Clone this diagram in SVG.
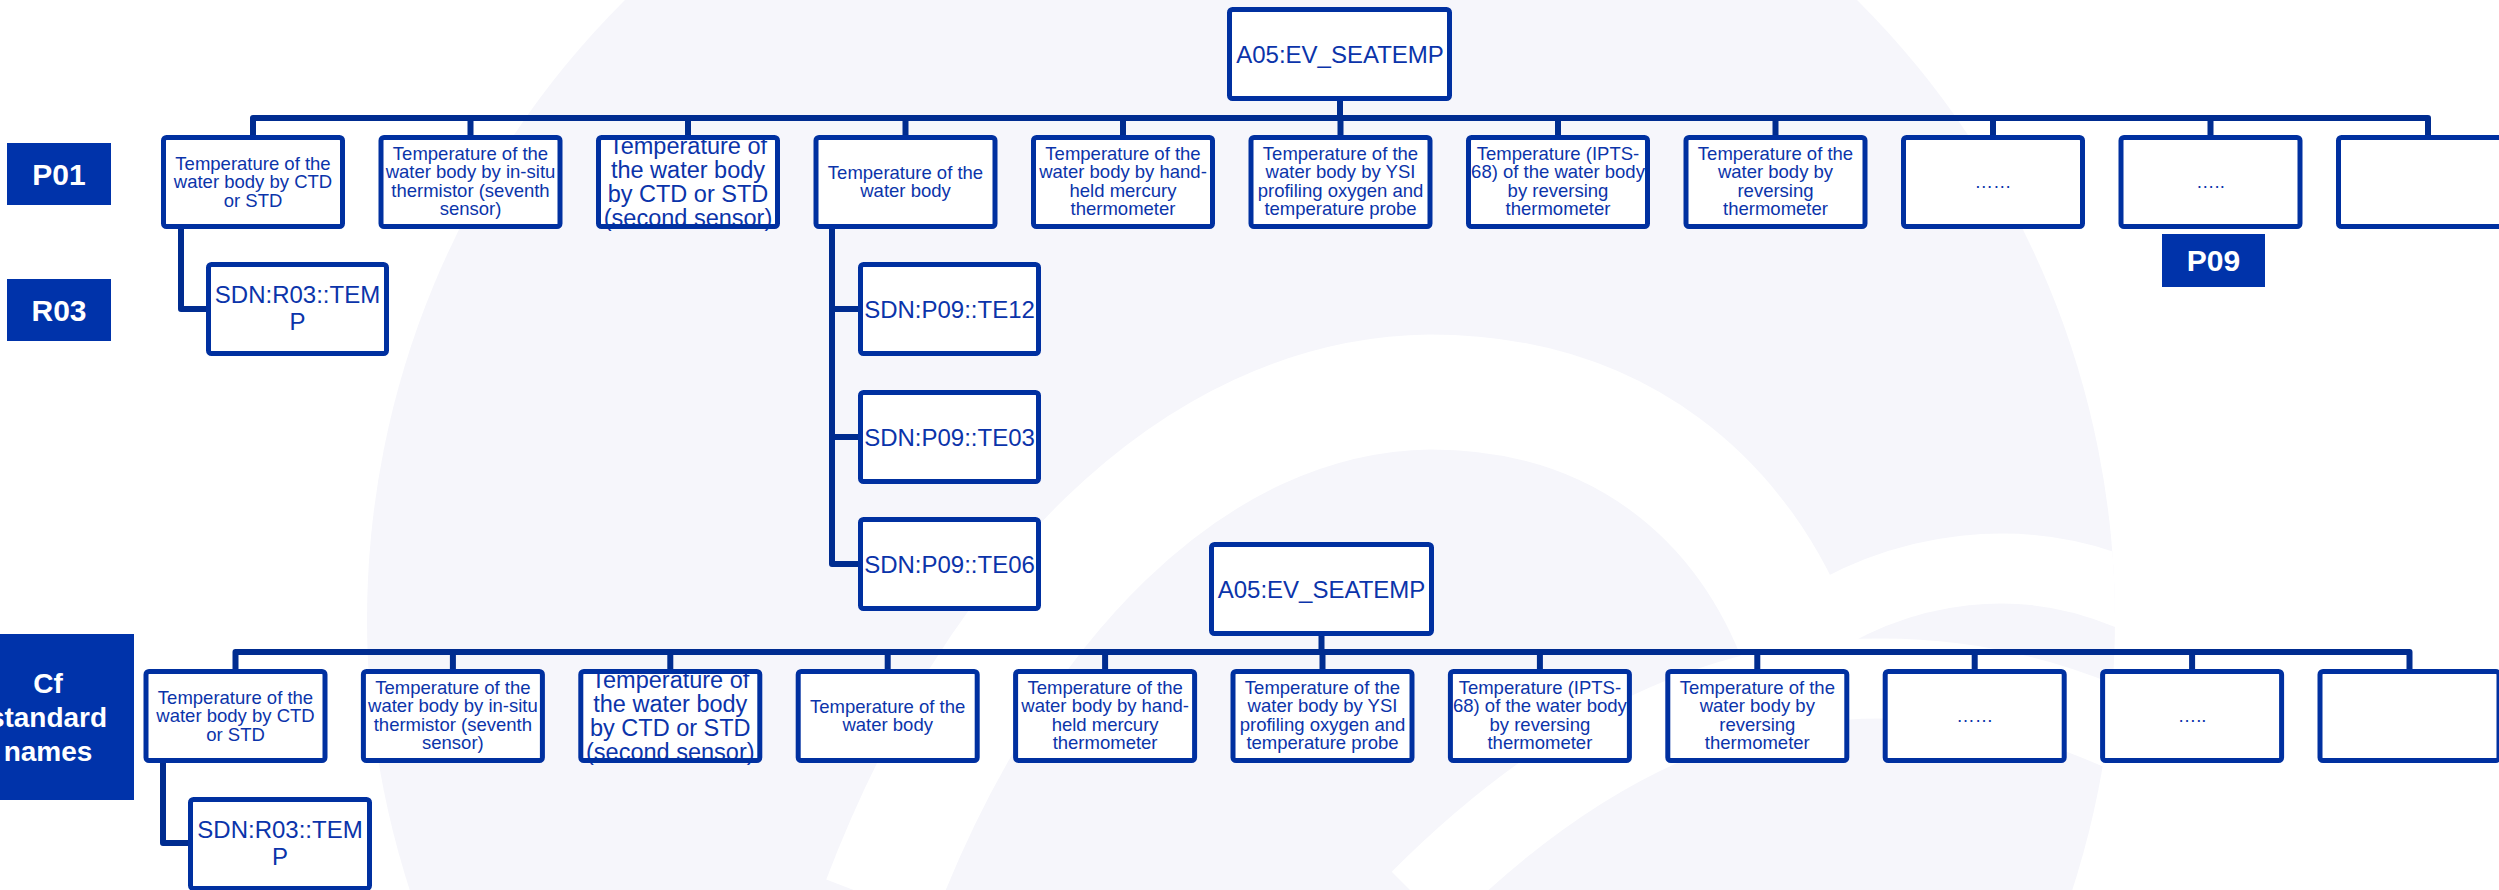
<svg xmlns="http://www.w3.org/2000/svg" width="2499" height="890" viewBox="0 0 2499 890">
  <style>
    .box { fill: none; stroke: #0030a0; stroke-width: 5; stroke-linejoin: round; }
    .bg { fill: #ffffff; }
    .t { font-family: "Liberation Sans", Arial, sans-serif; fill: #0b34aa; text-anchor: middle; }
    .s { font-size: 18.5px; }
    .m { font-size: 24px; }
    .l { font-size: 23.5px; }
    .tag { fill: #0033aa; }
    .tagt { font-family: "Liberation Sans", Arial, sans-serif; font-weight: bold; fill: #ffffff; text-anchor: middle; }
    .wire { fill: none; stroke: #002c90; stroke-width: 6; stroke-linejoin: round; }
  </style>
  <defs>
    <clipPath id="ring"><circle cx="1241" cy="620" r="874"/></clipPath>
  </defs>

  <!-- faint watermark logo behind the diagram -->
  <g id="watermark">
    <rect x="0" y="0" width="2499" height="890" fill="#ffffff"/>
    <circle cx="1241" cy="620" r="874" fill="#f6f6fb"/>
    <g clip-path="url(#ring)" fill="none" stroke="#ffffff">
      <path d="M 880 900 C 990 610, 1190 395, 1430 392 C 1620 392, 1745 500, 1800 650" stroke-width="115"/>
      <path d="M 1790 640 C 1900 560, 2030 548, 2140 600" stroke-width="70"/>
      <path d="M 1420 900 C 1560 760, 1700 690, 1840 680 C 1960 672, 2060 700, 2140 740" stroke-width="80"/>
    </g>
  </g>

  <!-- connectors -->
  <g id="connectors" class="wire">
    <path d="M1340,101 V118"/>
    <path d="M253,135 V118 H2428 V135"/>
    <path d="M470.5,118 V135 M688,118 V135 M905.5,118 V135 M1123,118 V135 M1340.5,118 V135 M1558,118 V135 M1775.5,118 V135 M1993,118 V135 M2210.5,118 V135"/>
    <path d="M181,229 V309 H206"/>
    <path d="M832,229 V564 H858 M832,309 H858 M832,437 H858"/>
    <path d="M1321.5,636 V652"/>
    <path d="M235.5,669 V652 H2409.5 V669"/>
    <path d="M452.9,652 V669 M670.3,652 V669 M887.7,652 V669 M1105.1,652 V669 M1322.5,652 V669 M1539.9,652 V669 M1757.3,652 V669 M1974.7,652 V669 M2192.1,652 V669"/>
    <path d="M163,763 V843 H188"/>
  </g>

  <!-- row tags -->
  <g id="tag-p01"><rect class="tag" x="7" y="143" width="104" height="62"/><text class="tagt" x="59" y="185" font-size="30">P01</text></g>
  <g id="tag-r03"><rect class="tag" x="7" y="279" width="104" height="62"/><text class="tagt" x="59" y="321" font-size="30">R03</text></g>
  <g id="tag-p09"><rect class="tag" x="2162" y="234" width="103" height="53"/><text class="tagt" x="2213.5" y="271" font-size="30">P09</text></g>
  <g id="tag-cf"><rect class="tag" x="0" y="634" width="134" height="166"/>
    <text class="tagt" font-size="28"><tspan x="48" y="693">Cf</tspan><tspan x="48" y="727">standard</tspan><tspan x="48" y="761">names</tspan></text></g>

  <!-- upper tree -->
  <g id="a05-top"><rect class="bg" x="1229.5" y="9.5" width="220" height="89"/><text class="t m" x="1340" y="62.5">A05:EV_SEATEMP</text><rect class="box" x="1229.5" y="9.5" width="220" height="89" rx="3"/></g>

  <g id="p01-1"><rect class="bg" x="163.5" y="137.5" width="179" height="89"/>
    <text class="t s"><tspan x="253" y="170">Temperature of the</tspan><tspan x="253" y="188.3">water body by CTD</tspan><tspan x="253" y="206.6">or STD</tspan></text>
    <rect class="box" x="163.5" y="137.5" width="179" height="89" rx="3"/></g>
  <g id="p01-2"><rect class="bg" x="381" y="137.5" width="179" height="89"/>
    <text class="t s"><tspan x="470.5" y="160">Temperature of the</tspan><tspan x="470.5" y="178.3">water body by in-situ</tspan><tspan x="470.5" y="196.6">thermistor (seventh</tspan><tspan x="470.5" y="214.9">sensor)</tspan></text>
    <rect class="box" x="381" y="137.5" width="179" height="89" rx="3"/></g>
  <g id="p01-3"><rect class="bg" x="598.5" y="137.5" width="179" height="89"/>
    <text class="t l"><tspan x="688" y="153.5">Temperature of</tspan><tspan x="688" y="177.5">the water body</tspan><tspan x="688" y="201.5">by CTD or STD</tspan><tspan x="688" y="225.5">(second sensor)</tspan></text>
    <rect class="box" x="598.5" y="137.5" width="179" height="89" rx="3"/></g>
  <g id="p01-4"><rect class="bg" x="816" y="137.5" width="179" height="89"/>
    <text class="t s"><tspan x="905.5" y="179">Temperature of the</tspan><tspan x="905.5" y="197.3">water body</tspan></text>
    <rect class="box" x="816" y="137.5" width="179" height="89" rx="3"/></g>
  <g id="p01-5"><rect class="bg" x="1033.5" y="137.5" width="179" height="89"/>
    <text class="t s"><tspan x="1123" y="160">Temperature of the</tspan><tspan x="1123" y="178.3">water body by hand-</tspan><tspan x="1123" y="196.6">held mercury</tspan><tspan x="1123" y="214.9">thermometer</tspan></text>
    <rect class="box" x="1033.5" y="137.5" width="179" height="89" rx="3"/></g>
  <g id="p01-6"><rect class="bg" x="1251" y="137.5" width="179" height="89"/>
    <text class="t s"><tspan x="1340.5" y="160">Temperature of the</tspan><tspan x="1340.5" y="178.3">water body by YSI</tspan><tspan x="1340.5" y="196.6">profiling oxygen and</tspan><tspan x="1340.5" y="214.9">temperature probe</tspan></text>
    <rect class="box" x="1251" y="137.5" width="179" height="89" rx="3"/></g>
  <g id="p01-7"><rect class="bg" x="1468.5" y="137.5" width="179" height="89"/>
    <text class="t s"><tspan x="1558" y="160">Temperature (IPTS-</tspan><tspan x="1558" y="178.3">68) of the water body</tspan><tspan x="1558" y="196.6">by reversing</tspan><tspan x="1558" y="214.9">thermometer</tspan></text>
    <rect class="box" x="1468.5" y="137.5" width="179" height="89" rx="3"/></g>
  <g id="p01-8"><rect class="bg" x="1686" y="137.5" width="179" height="89"/>
    <text class="t s"><tspan x="1775.5" y="160">Temperature of the</tspan><tspan x="1775.5" y="178.3">water body by</tspan><tspan x="1775.5" y="196.6">reversing</tspan><tspan x="1775.5" y="214.9">thermometer</tspan></text>
    <rect class="box" x="1686" y="137.5" width="179" height="89" rx="3"/></g>
  <g id="p01-9"><rect class="bg" x="1903.5" y="137.5" width="179" height="89"/>
    <text class="t s" x="1993" y="188">……</text>
    <rect class="box" x="1903.5" y="137.5" width="179" height="89" rx="3"/></g>
  <g id="p01-10"><rect class="bg" x="2121" y="137.5" width="179" height="89"/>
    <text class="t s" x="2210.5" y="188">…..</text>
    <rect class="box" x="2121" y="137.5" width="179" height="89" rx="3"/></g>
  <g id="p01-11"><rect class="bg" x="2338.5" y="137.5" width="179" height="89"/>
    <rect class="box" x="2338.5" y="137.5" width="179" height="89" rx="3"/></g>

  <g id="r03-top"><rect class="bg" x="208.5" y="264.5" width="178" height="89"/>
    <text class="t m"><tspan x="297.5" y="303">SDN:R03::TEM</tspan><tspan x="297.5" y="330">P</tspan></text>
    <rect class="box" x="208.5" y="264.5" width="178" height="89" rx="3"/></g>
  <g id="p09-te12"><rect class="bg" x="860.5" y="264.5" width="178" height="89"/>
    <text class="t m" x="949.5" y="317.5">SDN:P09::TE12</text>
    <rect class="box" x="860.5" y="264.5" width="178" height="89" rx="3"/></g>
  <g id="p09-te03"><rect class="bg" x="860.5" y="392.5" width="178" height="89"/>
    <text class="t m" x="949.5" y="445.5">SDN:P09::TE03</text>
    <rect class="box" x="860.5" y="392.5" width="178" height="89" rx="3"/></g>
  <g id="p09-te06"><rect class="bg" x="860.5" y="519.5" width="178" height="89"/>
    <text class="t m" x="949.5" y="572.5">SDN:P09::TE06</text>
    <rect class="box" x="860.5" y="519.5" width="178" height="89" rx="3"/></g>

  <!-- lower tree -->
  <g id="a05-bottom"><rect class="bg" x="1211.5" y="544.5" width="220" height="89"/><text class="t m" x="1321.5" y="597.5">A05:EV_SEATEMP</text><rect class="box" x="1211.5" y="544.5" width="220" height="89" rx="3"/></g>

  <g id="cf-1"><rect class="bg" x="146" y="671.5" width="179" height="89"/>
    <text class="t s"><tspan x="235.5" y="704">Temperature of the</tspan><tspan x="235.5" y="722.3">water body by CTD</tspan><tspan x="235.5" y="740.6">or STD</tspan></text>
    <rect class="box" x="146" y="671.5" width="179" height="89" rx="3"/></g>
  <g id="cf-2"><rect class="bg" x="363.4" y="671.5" width="179" height="89"/>
    <text class="t s"><tspan x="452.9" y="694">Temperature of the</tspan><tspan x="452.9" y="712.3">water body by in-situ</tspan><tspan x="452.9" y="730.6">thermistor (seventh</tspan><tspan x="452.9" y="748.9">sensor)</tspan></text>
    <rect class="box" x="363.4" y="671.5" width="179" height="89" rx="3"/></g>
  <g id="cf-3"><rect class="bg" x="580.8" y="671.5" width="179" height="89"/>
    <text class="t l"><tspan x="670.3" y="687.5">Temperature of</tspan><tspan x="670.3" y="711.5">the water body</tspan><tspan x="670.3" y="735.5">by CTD or STD</tspan><tspan x="670.3" y="759.5">(second sensor)</tspan></text>
    <rect class="box" x="580.8" y="671.5" width="179" height="89" rx="3"/></g>
  <g id="cf-4"><rect class="bg" x="798.2" y="671.5" width="179" height="89"/>
    <text class="t s"><tspan x="887.7" y="713">Temperature of the</tspan><tspan x="887.7" y="731.3">water body</tspan></text>
    <rect class="box" x="798.2" y="671.5" width="179" height="89" rx="3"/></g>
  <g id="cf-5"><rect class="bg" x="1015.6" y="671.5" width="179" height="89"/>
    <text class="t s"><tspan x="1105.1" y="694">Temperature of the</tspan><tspan x="1105.1" y="712.3">water body by hand-</tspan><tspan x="1105.1" y="730.6">held mercury</tspan><tspan x="1105.1" y="748.9">thermometer</tspan></text>
    <rect class="box" x="1015.6" y="671.5" width="179" height="89" rx="3"/></g>
  <g id="cf-6"><rect class="bg" x="1233" y="671.5" width="179" height="89"/>
    <text class="t s"><tspan x="1322.5" y="694">Temperature of the</tspan><tspan x="1322.5" y="712.3">water body by YSI</tspan><tspan x="1322.5" y="730.6">profiling oxygen and</tspan><tspan x="1322.5" y="748.9">temperature probe</tspan></text>
    <rect class="box" x="1233" y="671.5" width="179" height="89" rx="3"/></g>
  <g id="cf-7"><rect class="bg" x="1450.4" y="671.5" width="179" height="89"/>
    <text class="t s"><tspan x="1539.9" y="694">Temperature (IPTS-</tspan><tspan x="1539.9" y="712.3">68) of the water body</tspan><tspan x="1539.9" y="730.6">by reversing</tspan><tspan x="1539.9" y="748.9">thermometer</tspan></text>
    <rect class="box" x="1450.4" y="671.5" width="179" height="89" rx="3"/></g>
  <g id="cf-8"><rect class="bg" x="1667.8" y="671.5" width="179" height="89"/>
    <text class="t s"><tspan x="1757.3" y="694">Temperature of the</tspan><tspan x="1757.3" y="712.3">water body by</tspan><tspan x="1757.3" y="730.6">reversing</tspan><tspan x="1757.3" y="748.9">thermometer</tspan></text>
    <rect class="box" x="1667.8" y="671.5" width="179" height="89" rx="3"/></g>
  <g id="cf-9"><rect class="bg" x="1885.2" y="671.5" width="179" height="89"/>
    <text class="t s" x="1974.7" y="722">……</text>
    <rect class="box" x="1885.2" y="671.5" width="179" height="89" rx="3"/></g>
  <g id="cf-10"><rect class="bg" x="2102.6" y="671.5" width="179" height="89"/>
    <text class="t s" x="2192.1" y="722">…..</text>
    <rect class="box" x="2102.6" y="671.5" width="179" height="89" rx="3"/></g>
  <g id="cf-11"><rect class="bg" x="2320" y="671.5" width="179" height="89"/>
    <rect class="box" x="2320" y="671.5" width="179" height="89" rx="3"/></g>

  <g id="r03-bottom"><rect class="bg" x="190.5" y="799.5" width="179" height="89"/>
    <text class="t m"><tspan x="280" y="838">SDN:R03::TEM</tspan><tspan x="280" y="865">P</tspan></text>
    <rect class="box" x="190.5" y="799.5" width="179" height="89" rx="3"/></g>
</svg>
